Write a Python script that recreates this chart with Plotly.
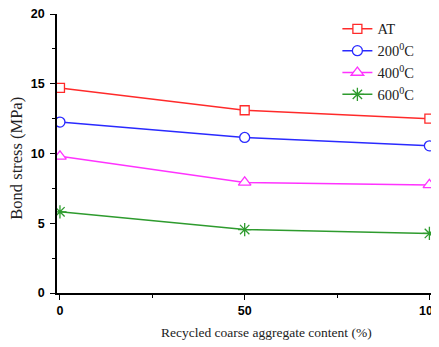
import plotly.graph_objects as go

rca_content = [0, 50, 100]
bond_at = [14.7, 13.1, 12.5]
bond_200 = [12.25, 11.15, 10.55]
bond_400 = [9.8, 7.93, 7.75]
bond_600 = [5.82, 4.55, 4.27]

series = [
    ("AT", bond_at, "#ff2a2a", "square", 9, "white"),
    ("200<sup>0</sup>C", bond_200, "#2a2aff", "circle", 10, "white"),
    ("400<sup>0</sup>C", bond_400, "#ff33ff", "triangle-up", 11, "white"),
    ("600<sup>0</sup>C", bond_600, "#2e9b2e", "asterisk", 11, "#2e9b2e"),
]

fig = go.Figure()
for name, vals, color, sym, size, fill in series:
    fig.add_trace(go.Scatter(
        x=rca_content, y=vals, name=name, mode="lines+markers",
        line=dict(color=color, width=1.5),
        marker=dict(symbol=sym, size=size, color=fill,
                    line=dict(color=color, width=1.3)),
    ))

axis_font = dict(family="Liberation Sans", size=12.5, color="black", weight="bold")
title_font = dict(family="Liberation Serif", color="#222")
fig.update_layout(
    width=431, height=339,
    margin=dict(l=49, r=0, t=6, b=54, autoexpand=False),
    paper_bgcolor="white", plot_bgcolor="white",
    showlegend=True,
    legend=dict(x=0.734, y=1.004, xanchor="left", yanchor="top",
                font=dict(family="Liberation Serif", size=14.5, color="#222"),
                bgcolor="rgba(0,0,0,0)", tracegroupgap=0, itemwidth=30),
    xaxis=dict(range=[-0.8, 102.6], tick0=0, dtick=50, ticks="outside", ticklen=5,
               tickwidth=1.3, tickcolor="black", showline=True, linecolor="black",
               linewidth=1.5, showgrid=False, zeroline=False, tickfont=axis_font,
               automargin=False, ticklabeloverflow="allow",
               minor=dict(dtick=25, ticks="outside", ticklen=3, tickcolor="black", showgrid=False)),
    yaxis=dict(range=[0, 20], tick0=0, dtick=5, ticks="outside", ticklen=5,
               tickwidth=1.3, tickcolor="black", showline=True, linecolor="black",
               linewidth=1.5, showgrid=False, zeroline=False, tickfont=axis_font,
               automargin=False, ticklabelstandoff=3, ticklabeloverflow="allow",
               minor=dict(dtick=2.5, ticks="outside", ticklen=3, tickcolor="black", showgrid=False)),
    annotations=[
        dict(text="Recycled coarse aggregate content (%)", xref="paper", yref="paper",
             x=0.548, y=-0.143, xanchor="center", yanchor="middle", showarrow=False,
             font=dict(size=13.5, **title_font)),
        dict(text="Bond stress (MPa)", xref="paper", yref="paper",
             x=-0.107, y=0.482, xanchor="center", yanchor="middle", showarrow=False,
             textangle=-90, font=dict(size=16.5, **title_font)),
    ],
)
fig.write_html("out.html")
